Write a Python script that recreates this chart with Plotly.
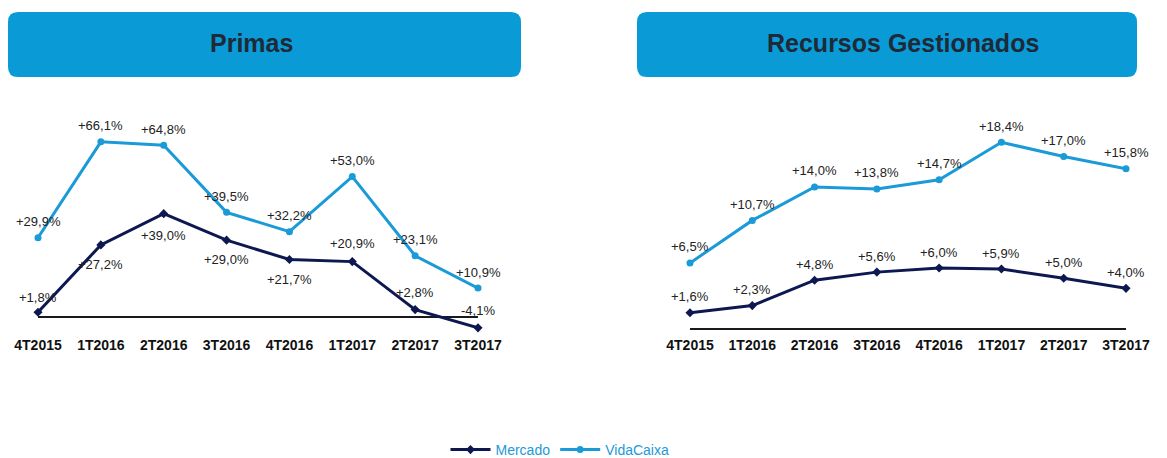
import plotly.graph_objects as go

categories = ["4T2015", "1T2016", "2T2016", "3T2016", "4T2016", "1T2017", "2T2017", "3T2017"]

primas_vidacaixa = [29.9, 66.1, 64.8, 39.5, 32.2, 53.0, 23.1, 10.9]
primas_mercado = [1.8, 27.2, 39.0, 29.0, 21.7, 20.9, 2.8, -4.1]
recursos_vidacaixa = [6.5, 10.7, 14.0, 13.8, 14.7, 18.4, 17.0, 15.8]
recursos_mercado = [1.6, 2.3, 4.8, 5.6, 6.0, 5.9, 5.0, 4.0]

titles = ["Primas", "Recursos Gestionados"]
series_names = ["Mercado", "VidaCaixa"]

# label placement (vertical shift in px) for the Primas / Mercado series
primas_mercado_shift = [15, -20, -22, -19, -20, 18, 17, 17]

W, H = 1167, 458
NAVY = "#0d1850"
BLUE = "#1b9ad8"
BOX = "#0a9ad6"
FONT = "Liberation Sans, Arial, sans-serif"


def fmt(v):
    s = f"{v:+.1f}".replace(".", ",")
    return s + "%"


def px_x(p):
    return p / W


def px_y(p):
    return 1 - p / H


fig = go.Figure()

panels = [
    ("x", "y", primas_mercado, primas_vidacaixa, primas_mercado_shift, True),
    ("x2", "y2", recursos_mercado, recursos_vidacaixa, [16] * len(categories), False),
]

for xa, ya, merc, vida, mshift, show in panels:
    fig.add_trace(go.Scatter(
        x=categories, y=merc, name=series_names[0], mode="lines+markers",
        line=dict(color=NAVY, width=3), marker=dict(symbol="diamond", size=7, color=NAVY),
        cliponaxis=False, xaxis=xa, yaxis=ya, showlegend=show))
    fig.add_trace(go.Scatter(
        x=categories, y=vida, name=series_names[1], mode="lines+markers",
        line=dict(color=BLUE, width=3), marker=dict(symbol="circle", size=7, color=BLUE),
        cliponaxis=False, xaxis=xa, yaxis=ya, showlegend=show))
    for c, v, s in zip(categories, merc, mshift):
        fig.add_annotation(x=c, y=v, xref=xa, yref=ya, text=fmt(v), showarrow=False,
                           yshift=s, xanchor="center", yanchor="middle",
                           font=dict(size=13, color="#222", family=FONT))
    for c, v in zip(categories, vida):
        fig.add_annotation(x=c, y=v, xref=xa, yref=ya, text=fmt(v), showarrow=False,
                           yshift=16, xanchor="center", yanchor="middle",
                           font=dict(size=13, color="#222", family=FONT))

ydom = [px_y(335), px_y(130)]
xaxis_common = dict(type="category", categoryorder="array", categoryarray=categories,
                    range=[0, 7], showgrid=False, showline=False, zeroline=False, automargin=False,
                    ticks="", tickfont=dict(size=14, color="#111", family="Liberation Sans, Arial", weight="bold"))
yaxis_common = dict(showgrid=False, showticklabels=False, ticks="", showline=False, automargin=False,
                    zeroline=True, zerolinecolor="#1a1a1a", zerolinewidth=1.5)

fig.update_layout(
    width=W, height=H,
    margin=dict(l=0, r=0, t=0, b=0, pad=0, autoexpand=False),
    paper_bgcolor="white", plot_bgcolor="rgba(0,0,0,0)",
    font=dict(family=FONT),
    xaxis=dict(domain=[px_x(38), px_x(478)], anchor="y", **xaxis_common),
    yaxis=dict(domain=ydom, anchor="x", range=[(317 - 335) / 2.65, (317 - 130) / 2.65], **yaxis_common),
    xaxis2=dict(domain=[px_x(690), px_x(1126)], anchor="y2", **xaxis_common),
    yaxis2=dict(domain=ydom, anchor="x2", range=[(328.9 - 335) / 10.14, (328.9 - 130) / 10.14], **yaxis_common),
    legend=dict(orientation="h", x=px_x(560), xanchor="center", y=-8 / H, yanchor="bottom",
                itemwidth=40, tracegroupgap=0, font=dict(size=14, color=BLUE, family=FONT),
                bgcolor="rgba(0,0,0,0)"),
)


def rounded_box(x0, y0, x1, y1, r):
    X0, X1 = px_x(x0), px_x(x1)
    Y0, Y1 = px_y(y1), px_y(y0)
    rx, ry = r / W, r / H
    return (f"M {X0+rx},{Y1} L {X1-rx},{Y1} Q {X1},{Y1} {X1},{Y1-ry} "
            f"L {X1},{Y0+ry} Q {X1},{Y0} {X1-rx},{Y0} L {X0+rx},{Y0} "
            f"Q {X0},{Y0} {X0},{Y0+ry} L {X0},{Y1-ry} Q {X0},{Y1} {X0+rx},{Y1} Z")


boxes = [(8, 12, 521, 77, 251), (637, 12, 1137, 77, 903)]
for (x0, y0, x1, y1, tx), title in zip(boxes, titles):
    fig.add_shape(type="path", xref="paper", yref="paper", path=rounded_box(x0, y0, x1, y1, 10),
                  fillcolor=BOX, line=dict(width=0), layer="below")
    fig.add_annotation(x=px_x(tx), y=px_y(43), xref="paper", yref="paper", text=f"<b>{title}</b>",
                       showarrow=False, xanchor="center", yanchor="middle",
                       font=dict(size=25, color="#1e2a38", family=FONT))

fig.write_html("out.html", config={"displayModeBar": False},
               post_script="document.body.style.margin='0px';document.body.style.overflow='hidden';")
